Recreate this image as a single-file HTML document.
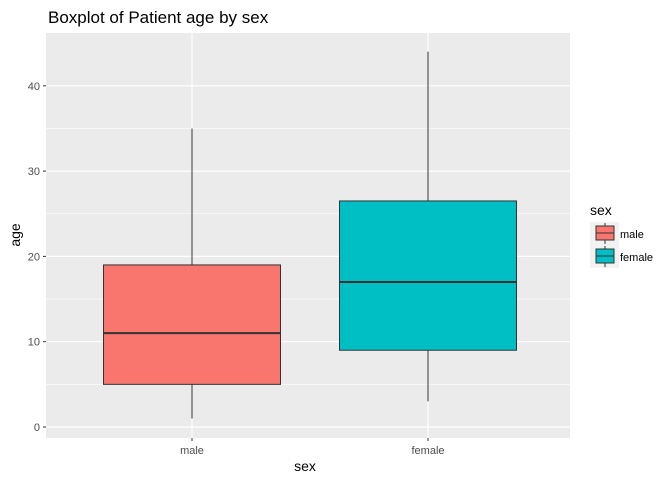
<!DOCTYPE html>
<html><head><meta charset="utf-8"><style>
body{margin:0;background:#fff;font-family:"Liberation Sans",sans-serif}
</style></head><body>
<svg id="chart" width="672" height="480" xmlns="http://www.w3.org/2000/svg">
<rect width="672" height="480" fill="#fff"/>
<text x="48" y="23" font-size="17" fill="#000">Boxplot of Patient age by sex</text>
<rect x="46" y="33" width="524" height="405" fill="#ebebeb"/>
<g id="grid"></g>
<g id="boxes"></g>
<g id="axes"></g>
<text x="305" y="471" font-size="14" text-anchor="middle">sex</text>
<text x="0" y="0" font-size="14" text-anchor="middle" transform="translate(20,235) rotate(-90)">age</text>
<g id="legend">
<text x="590" y="215" font-size="14">sex</text>
</g>
</svg>
<script>
const categories=["male","female"];
const colors=["#f8766d","#00bfc4"];
const mins=[1,3];
const q1s=[5,9];
const medians=[11,17];
const q3s=[19,26.5];
const maxs=[35,44];
const yTicks=[0,10,20,30,40];
const ns="http://www.w3.org/2000/svg";
function y(v){return 427-v*8.53;}
function x(i){return 192+i*236;}
const bw=177;
function mk(p,t,a){const e=document.createElementNS(ns,t);for(const k in a)e.setAttribute(k,a[k]);p.appendChild(e);return e;}
const grid=document.getElementById('grid'),boxes=document.getElementById('boxes'),axes=document.getElementById('axes'),legend=document.getElementById('legend');
for(let k=0;k<yTicks.length;k++){
 const v=yTicks[k];
 if(k<yTicks.length-1){const m=(v+yTicks[k+1])/2;const gm=mk(grid,'line',{x1:46,x2:570,y1:y(m),y2:y(m),stroke:'#fff','stroke-width':0.6});
 
 }
 const g=mk(grid,'line',{x1:46,x2:570,y1:y(v),y2:y(v),stroke:'#fff','stroke-width':1.2});
 
 
 const t=mk(axes,'text',{x:40,y:y(v)+4,'font-size':11,fill:'#4d4d4d','text-anchor':'end'});t.textContent=v;
 
 
 mk(axes,'line',{x1:43,x2:46,y1:y(v),y2:y(v),stroke:'#333'});
}
categories.forEach((c,i)=>{
 const cx=x(i);
 const gl=mk(grid,'line',{x1:cx,x2:cx,y1:33,y2:438,stroke:'#fff','stroke-width':1.2});
 
 
 const g=mk(boxes,'g',{});
 
 
 mk(g,'line',{x1:cx,x2:cx,y1:y(maxs[i]),y2:y(q3s[i]),stroke:'#333'});
 mk(g,'line',{x1:cx,x2:cx,y1:y(q1s[i]),y2:y(mins[i]),stroke:'#333'});
 mk(g,'rect',{x:cx-bw/2,y:y(q3s[i]),width:bw,height:y(q1s[i])-y(q3s[i]),fill:colors[i],stroke:'#333'});
 mk(g,'line',{x1:cx-bw/2,x2:cx+bw/2,y1:y(medians[i]),y2:y(medians[i]),stroke:'#333','stroke-width':2});
 mk(axes,'line',{x1:cx,x2:cx,y1:438,y2:441,stroke:'#333'});
 const t=mk(axes,'text',{x:cx,y:454,'font-size':11,fill:'#4d4d4d','text-anchor':'middle'});t.textContent=c;
 
 
 const ly=222+i*23;
 const lg=mk(legend,'g',{});
 
 
 mk(lg,'rect',{x:590,y:ly,width:29,height:23,fill:'#f2f2f2'});
 mk(lg,'line',{x1:605,x2:605,y1:ly+1,y2:ly+22,stroke:'#333'});
 mk(lg,'rect',{x:596,y:ly+4,width:18,height:14,fill:colors[i],stroke:'#333'});
 mk(lg,'line',{x1:596,x2:614,y1:ly+11,y2:ly+11,stroke:'#333'});
 const lt=mk(lg,'text',{x:620,y:ly+16,'font-size':11,fill:'#000'});lt.textContent=c;
});
</script>
</body></html>
